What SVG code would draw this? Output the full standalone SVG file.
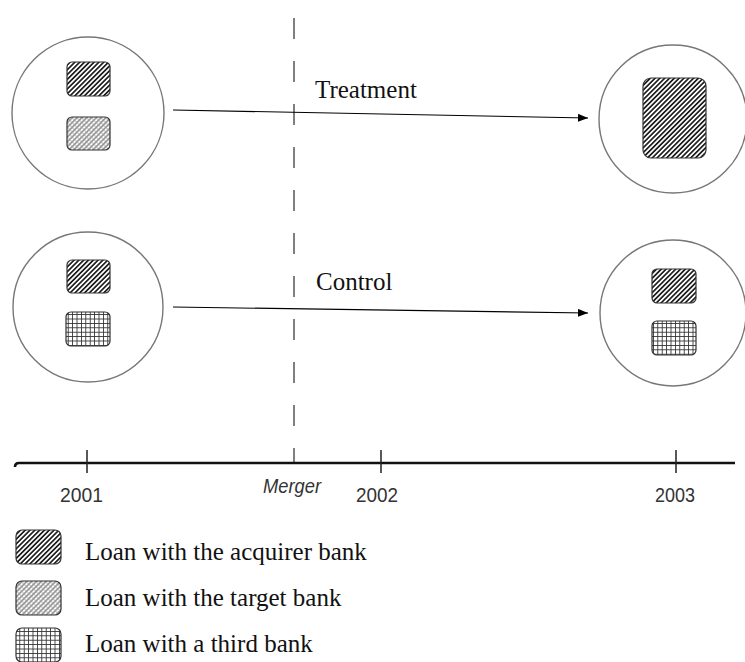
<svg xmlns="http://www.w3.org/2000/svg" width="745" height="662" viewBox="0 0 745 662">
<defs>
<style>
.circ{fill:#fff;stroke:#777;stroke-width:1.4}
.box{stroke:#333;stroke-width:1.2}
.acq{fill:url(#pAcq)}
.tgt{fill:url(#pTgt)}
.thd{fill:url(#pThd)}
.conn{stroke:#000;stroke-width:1.1;fill:none;marker-end:url(#arr)}
.lbl{font-family:"Liberation Serif","Times New Roman",serif;font-size:25px;fill:#111}
.yr{font-family:"Liberation Sans",Arial,sans-serif;font-size:21px;fill:#333}
.tick{stroke:#222;stroke-width:1.5}
</style>
<marker id="arr" viewBox="0 0 10 8" refX="10" refY="4" markerWidth="10" markerHeight="8" markerUnits="userSpaceOnUse" orient="auto">
<path d="M0,0 L10,4 L0,8 Z" fill="#000"/>
</marker>
<pattern id="pAcq" patternUnits="userSpaceOnUse" width="3.4" height="10" patternTransform="rotate(45)">
<rect width="3.4" height="10" fill="#fff"/>
<line x1="1.7" y1="0" x2="1.7" y2="10" stroke="#000" stroke-width="1.5"/>
</pattern>
<pattern id="pTgt" patternUnits="userSpaceOnUse" width="3.4" height="3.4" patternTransform="rotate(45)">
<rect width="3.4" height="3.4" fill="#fff"/>
<line x1="1.7" y1="0" x2="1.7" y2="3.4" stroke="#666" stroke-width="1.1"/>
<line x1="0" y1="1.7" x2="3.4" y2="1.7" stroke="#999" stroke-width="0.7"/>
</pattern>
<pattern id="pThd" patternUnits="userSpaceOnUse" width="4.4" height="4.4">
<rect width="4.4" height="4.4" fill="#fff"/>
<line x1="2.2" y1="0" x2="2.2" y2="4.4" stroke="#333" stroke-width="0.9"/>
<line x1="0" y1="2.2" x2="4.4" y2="2.2" stroke="#333" stroke-width="0.9"/>
</pattern>
</defs>
<rect width="745" height="662" fill="#fff"/>

<g id="merger-line">
<line x1="294" y1="18" x2="294" y2="463" stroke="#555" stroke-width="1.5" stroke-dasharray="21 22"/>
</g>

<g id="treat-2001">
<circle class="circ" cx="88" cy="113" r="76"/>
<rect class="box acq" x="67" y="62" width="43" height="34" rx="5"/>
<rect class="box tgt" x="67" y="117" width="43" height="33" rx="5"/>
</g>
<g id="treat-2003">
<circle class="circ" cx="673" cy="119" r="74"/>
<rect class="box acq" x="643" y="78" width="63" height="80" rx="8"/>
</g>
<g id="ctrl-2001">
<circle class="circ" cx="88" cy="307" r="75"/>
<rect class="box acq" x="67" y="260" width="43" height="33" rx="5"/>
<rect class="box thd" x="66" y="312" width="44" height="34" rx="5"/>
</g>
<g id="ctrl-2003">
<circle class="circ" cx="673" cy="313" r="73"/>
<rect class="box acq" x="652" y="269" width="44" height="34" rx="5"/>
<rect class="box thd" x="652" y="321" width="44" height="34" rx="5"/>
</g>

<g id="connectors">
<line class="conn" x1="173" y1="110" x2="588" y2="118"/>
<line class="conn" x1="173" y1="307" x2="588" y2="313"/>
</g>

<text class="lbl" x="315" y="98">Treatment</text>
<text class="lbl" x="316" y="290">Control</text>

<g id="timeline">
<path d="M15,467 Q15,463 19,463 L735,463" stroke="#111" stroke-width="2.6" fill="none"/>
<line class="tick" x1="87" y1="450" x2="87" y2="473"/>
<line class="tick" x1="381" y1="450" x2="381" y2="473"/>
<line class="tick" x1="676" y1="450" x2="676" y2="473"/>
<text class="yr" x="60" y="502" textLength="43" lengthAdjust="spacingAndGlyphs">2001</text>
<text class="yr" x="263" y="493" font-style="italic" font-size="19" textLength="58" lengthAdjust="spacingAndGlyphs">Merger</text>
<text class="yr" x="356" y="502" textLength="42" lengthAdjust="spacingAndGlyphs">2002</text>
<text class="yr" x="655" y="502" textLength="40" lengthAdjust="spacingAndGlyphs">2003</text>
</g>

<g id="legend">
<rect class="box acq" x="16" y="530" width="45" height="34" rx="6"/>
<text class="lbl" x="85" y="560">Loan with the acquirer bank</text>
<rect class="box tgt" x="16" y="581" width="45" height="34" rx="6"/>
<text class="lbl" x="85" y="606">Loan with the target bank</text>
<rect class="box thd" x="16" y="628" width="45" height="34" rx="6"/>
<text class="lbl" x="85" y="652">Loan with a third bank</text>
</g>
</svg>
